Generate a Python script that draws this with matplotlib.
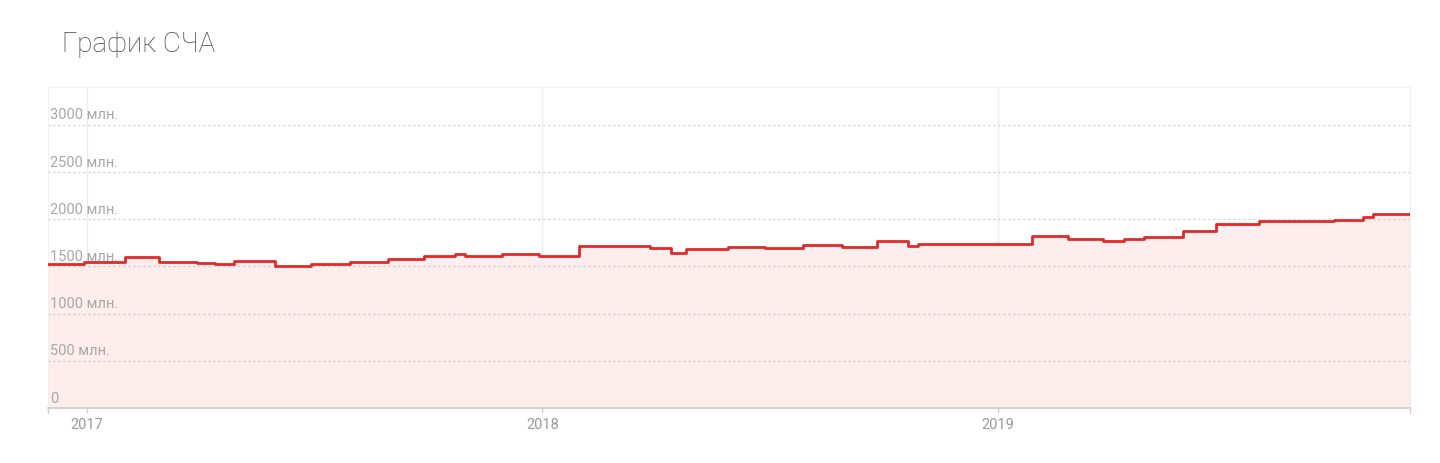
import numpy as np
import pandas as pd
import matplotlib
matplotlib.use('Agg')
import matplotlib.pyplot as plt
import matplotlib.dates as mdates

# step start dates and net asset value (mln)
dates = ['2016-12-01', '2016-12-30', '2017-02-01', '2017-02-28', '2017-03-30',
         '2017-04-14', '2017-04-29', '2017-06-01', '2017-06-30', '2017-07-31',
         '2017-08-30', '2017-09-28', '2017-10-23', '2017-10-31', '2017-11-30',
         '2017-12-29', '2018-01-30', '2018-02-26', '2018-03-28', '2018-04-14',
         '2018-04-26', '2018-05-30', '2018-06-28', '2018-07-29', '2018-08-29',
         '2018-09-26', '2018-10-21', '2018-10-29', '2019-01-28', '2019-02-26',
         '2019-03-26', '2019-04-12', '2019-04-28', '2019-05-29', '2019-06-25',
         '2019-07-29', '2019-09-27', '2019-10-20', '2019-10-28', '2019-11-27']
values = [1527, 1549, 1602, 1543, 1535,
          1521, 1557, 1504, 1525, 1543,
          1575, 1613, 1628, 1610, 1628,
          1610, 1712, 1719, 1698, 1638,
          1687, 1705, 1691, 1723, 1705,
          1768, 1712, 1733, 1818, 1790,
          1772, 1793, 1811, 1871, 1948,
          1977, 1991, 2019, 2054, 2060]
y_ticks = [0, 500, 1000, 1500, 2000, 2500, 3000]
y_labels = ['0', '500 млн.', '1000 млн.', '1500 млн.', '2000 млн.', '2500 млн.', '3000 млн.']
x_years = ['2017-01-01', '2018-01-01', '2019-01-01']
x_labels = ['2017', '2018', '2019']

x = pd.to_datetime(dates)
xd = mdates.date2num(x)

plt.rcParams['font.family'] = ['Roboto', 'DejaVu Sans']

fig = plt.figure(figsize=(14.4, 4.64), dpi=100, facecolor='white')
ax = fig.add_axes([48/1440, 55/464, (1410-48)/1440, (409-88)/464])

ax.fill_between(xd, values, 0, step='post', color='#fdeded', lw=0, zorder=1)
ax.plot(xd, values, drawstyle='steps-post', color='#e02a2a', lw=2.0, zorder=4)

ax.set_xlim(xd[0], xd[-1])
ax.set_ylim(0, 3400)

# grid
for v in y_ticks[1:]:
    ax.axhline(v, color='#c8c8c8', lw=0.9, ls=(0, (1.5, 2.5)), zorder=2)
for d in mdates.date2num(pd.to_datetime(x_years)):
    ax.axvline(d, color='#ececec', lw=1, zorder=0.5)

ax.set_xticks([])
ax.set_yticks([])
for s in ['top', 'right', 'left']:
    ax.spines[s].set_color('#f0f0f0')
ax.spines['bottom'].set_color('#cccccc')
ax.spines['bottom'].set_linewidth(1.2)

# y labels inside the plot
for v, lab in zip(y_ticks, y_labels):
    ax.text(0.0015, v + 35, lab, transform=ax.get_yaxis_transform(),
            fontsize=10.5, color='#a8a8a8', va='bottom', ha='left', zorder=3)

# x labels
for d, lab in zip(mdates.date2num(pd.to_datetime(x_years)), x_labels):
    ax.text(d, -0.028, lab, transform=ax.get_xaxis_transform(),
            fontsize=10.5, color='#999999', ha='center', va='top')
    ax.plot([d, d], [0, -0.012], transform=ax.get_xaxis_transform(),
            color='#cccccc', lw=1, clip_on=False)
for d in [xd[0], xd[-1]]:
    ax.plot([d, d], [0, -0.015], transform=ax.get_xaxis_transform(),
            color='#cccccc', lw=1, clip_on=False)

fig.text(62/1440, 1 - 45/464, 'График СЧА', fontsize=20, color='#444444',
         va='center', ha='left', fontweight='light')

fig.savefig('out.png', dpi=100, facecolor='white')
